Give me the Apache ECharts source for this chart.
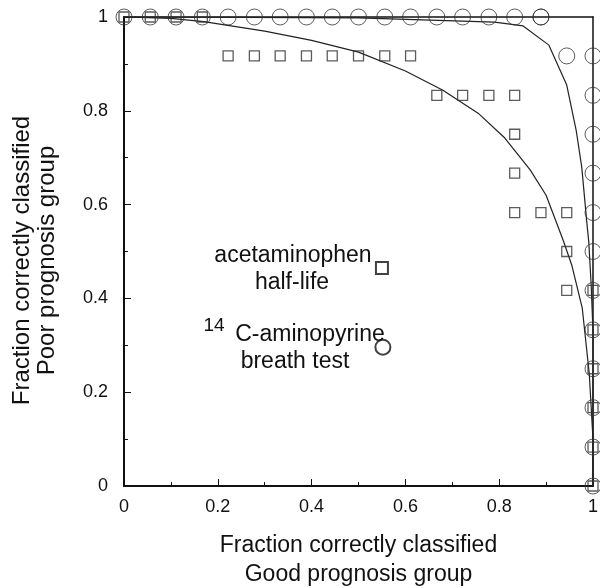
<!DOCTYPE html>
<html><head><meta charset="utf-8">
<script src="https://cdn.jsdelivr.net/npm/echarts@6/dist/echarts.min.js"></script>
<style>html,body{margin:0;padding:0;background:#fff}#c{width:600px;height:588px}</style>
</head><body><div id="c"></div><script>
// Tick labels
const xTickLabels = ['0', '0.2', '0.4', '0.6', '0.8', '1'];
const yTickLabels = ['0', '0.2', '0.4', '0.6', '0.8', '1'];

// 14C-aminopyrine breath test (circles)
const aminoX = [0, 0.056, 0.111, 0.167, 0.222, 0.278, 0.333, 0.389, 0.444, 0.5, 0.556, 0.611, 0.667, 0.722, 0.778, 0.833, 0.889, 0.889,
  0.944, 1, 1, 1, 1, 1, 1, 1, 1, 1, 1, 1, 1];
const aminoY = [1, 1, 1, 1, 1, 1, 1, 1, 1, 1, 1, 1, 1, 1, 1, 1, 1, 1,
  0.917, 0.917, 0.833, 0.75, 0.667, 0.583, 0.5, 0.417, 0.333, 0.25, 0.167, 0.083, 0];

// acetaminophen half-life (squares)
const acetX = [0, 0.056, 0.111, 0.167, 0.222, 0.278, 0.333, 0.389, 0.444, 0.5, 0.556, 0.611,
  0.667, 0.722, 0.778, 0.833, 0.833, 0.833, 0.833, 0.889, 0.944, 0.944, 0.944, 1, 1, 1, 1, 1, 1];
const acetY = [1, 1, 1, 1, 0.917, 0.917, 0.917, 0.917, 0.917, 0.917, 0.917, 0.917,
  0.833, 0.833, 0.833, 0.833, 0.75, 0.667, 0.583, 0.583, 0.583, 0.5, 0.417, 0.417, 0.333, 0.25, 0.167, 0.083, 0];

// fitted curves
const fitAcetX = [0, 0.1, 0.17, 0.3, 0.4, 0.5, 0.6, 0.68, 0.755, 0.812, 0.866, 0.9, 0.936, 0.955, 0.977, 0.992, 1, 1];
const fitAcetY = [1, 0.997, 0.99, 0.97, 0.95, 0.925, 0.885, 0.844, 0.795, 0.742, 0.674, 0.62, 0.525, 0.47, 0.38, 0.24, 0.1, 0];
const fitAminoX = [0, 0.5, 0.79, 0.851, 0.906, 0.944, 0.964, 0.976, 0.987, 0.991, 0.996, 1, 1];
const fitAminoY = [1, 0.998, 0.989, 0.981, 0.94, 0.855, 0.759, 0.68, 0.56, 0.52, 0.43, 0.33, 0];

// key markers
const keyX = [0.55, 0.552];
const keyY = [0.465, 0.296];

const zip = (a, b) => a.map((v, i) => [v, b[i]]);
const FONT = 'Arial, "Liberation Sans", sans-serif';
const INK = '#111';

const chart = echarts.init(document.getElementById('c'), null, {renderer: 'canvas'});
chart.setOption({
  animation: false,
  backgroundColor: '#fff',
  grid: {left: 124, top: 17, right: 7, bottom: 102, containLabel: false, outerBoundsMode: 'none'},
  xAxis: [{
    type: 'value', min: 0, max: 1, interval: 0.2, position: 'bottom',
    axisLine: {onZero: false, lineStyle: {color: INK, width: 2}},
    axisTick: {inside: true, length: 7, lineStyle: {color: INK, width: 1}},
    minorTick: {show: true, splitNumber: 2, length: 4, lineStyle: {color: INK, width: 1}},
    splitLine: {show: false},
    axisLabel: {margin: 12, color: INK, fontSize: 18, fontFamily: FONT,
      formatter: (v) => xTickLabels[Math.round(v / 0.2)]},
    name: 'Fraction correctly classified\nGood prognosis group',
    nameLocation: 'middle', nameGap: 45,
    nameTextStyle: {fontSize: 23, fontFamily: FONT, color: INK, lineHeight: 29}
  }, {
    type: 'value', min: 0, max: 1, position: 'top',
    axisLine: {onZero: false, lineStyle: {color: INK, width: 1.5}},
    axisTick: {show: false}, axisLabel: {show: false}, splitLine: {show: false}
  }],
  yAxis: [{
    type: 'value', min: 0, max: 1, interval: 0.2, position: 'left',
    axisLine: {onZero: false, lineStyle: {color: INK, width: 2}},
    axisTick: {inside: true, length: 7, lineStyle: {color: INK, width: 1}},
    minorTick: {show: true, splitNumber: 2, length: 4, lineStyle: {color: INK, width: 1}},
    splitLine: {show: false},
    axisLabel: {margin: 16, color: INK, fontSize: 18, fontFamily: FONT,
      formatter: (v) => yTickLabels[Math.round(v / 0.2)]},
    name: 'Fraction correctly classified\nPoor prognosis group',
    nameLocation: 'middle', nameGap: 64, nameRotate: 90,
    nameTextStyle: {fontSize: 24, fontFamily: FONT, color: INK, lineHeight: 25, padding: [0, 18, 0, 0]}
  }, {
    type: 'value', min: 0, max: 1, position: 'right',
    axisLine: {onZero: false, lineStyle: {color: INK, width: 1.5}},
    axisTick: {show: false}, axisLabel: {show: false}, splitLine: {show: false}
  }],
  series: [
    {type: 'line', data: zip(fitAcetX, fitAcetY), showSymbol: false, symbol: 'none', clip: false,
      lineStyle: {color: '#222', width: 1.2}, z: 2},
    {type: 'line', data: zip(fitAminoX, fitAminoY), showSymbol: false, symbol: 'none', clip: false,
      lineStyle: {color: '#222', width: 1.2}, z: 2},
    {type: 'scatter', data: zip(acetX, acetY), symbol: 'rect', symbolSize: 10, clip: false,
      itemStyle: {color: 'rgba(0,0,0,0)', borderColor: '#333', borderWidth: 1.3}, z: 3},
    {type: 'scatter', data: zip(aminoX, aminoY), symbol: 'circle', symbolSize: 16, clip: false,
      itemStyle: {color: 'rgba(0,0,0,0)', borderColor: '#333', borderWidth: 1}, z: 4},
    {type: 'scatter', data: [[keyX[0], keyY[0]]], symbol: 'rect', symbolSize: 12, clip: false,
      itemStyle: {color: 'rgba(0,0,0,0)', borderColor: '#111', borderWidth: 2}, z: 4},
    {type: 'scatter', data: [[keyX[1], keyY[1]]], symbol: 'circle', symbolSize: 15, clip: false,
      itemStyle: {color: 'rgba(0,0,0,0)', borderColor: '#111', borderWidth: 2}, z: 4}
  ],
  graphic: [
    {type: 'text', x: 293, y: 256, style: {text: 'acetaminophen', fill: INK, font: '23px ' + FONT, textAlign: 'center', textVerticalAlign: 'middle'}},
    {type: 'text', x: 292, y: 283, style: {text: 'half-life', fill: INK, font: '23px ' + FONT, textAlign: 'center', textVerticalAlign: 'middle'}},
    {type: 'text', x: 214, y: 326, style: {text: '14', fill: INK, font: '19px ' + FONT, textAlign: 'center', textVerticalAlign: 'middle'}},
    {type: 'text', x: 310, y: 335, style: {text: 'C-aminopyrine', fill: INK, font: '23px ' + FONT, textAlign: 'center', textVerticalAlign: 'middle'}},
    {type: 'text', x: 295, y: 362, style: {text: 'breath test', fill: INK, font: '23px ' + FONT, textAlign: 'center', textVerticalAlign: 'middle'}}
  ]
});
</script></body></html>
